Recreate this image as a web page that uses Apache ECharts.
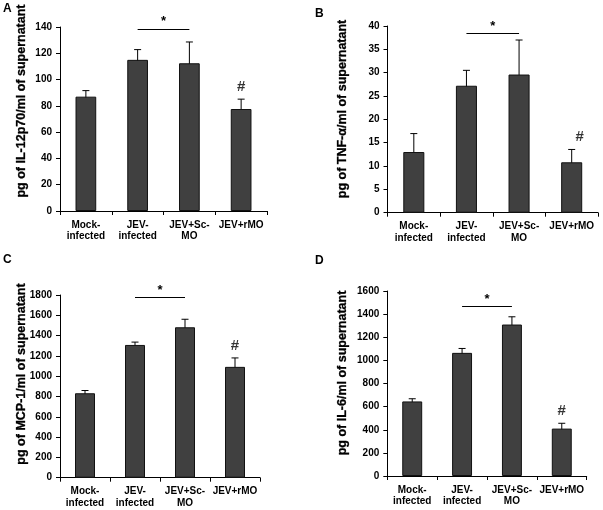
<!DOCTYPE html>
<html><head><meta charset="utf-8">
<script src="https://cdn.jsdelivr.net/npm/echarts@6/dist/echarts.min.js"></script>
<style>html,body{margin:0;padding:0;background:#fff}#c{width:603px;height:510px}</style>
</head><body><div id="c"></div>
<script>
const categories = ['Mock-\ninfected', 'JEV-\ninfected', 'JEV+Sc-\nMO', 'JEV+rMO'];
const il12Mean = [87, 115, 112.4, 77.6];
const il12Err = [4.6, 7.8, 16.2, 7.5];
const tnfMean = [13, 27.2, 29.6, 10.8];
const tnfErr = [3.95, 3.3, 7.4, 2.75];
const mcpMean = [832, 1308, 1482, 1092];
const mcpErr = [27, 28, 79, 88];
const il6Mean = [645, 1065, 1310, 410];
const il6Err = [23, 38, 67, 46];
const yTitles = ['pg of IL-12p70/ml of supernatant', 'pg of TNF-\u03b1/ml of supernatant', 'pg of MCP-1/ml of supernatant', 'pg of IL-6/ml of supernatant'];
const yMax = [140, 40, 1800, 1600];
const yStep = [20, 5, 200, 200];
const sigLevel = [138.5, 38.4, 1773, 1464];
const panelLetters = ['A', 'B', 'C', 'D'];

const FONT = 'Arial, "Liberation Sans", sans-serif';
const means = [il12Mean, tnfMean, mcpMean, il6Mean];
const errs = [il12Err, tnfErr, mcpErr, il6Err];

const grids = [
  {left: 60, right: 336, top: 27, bottom: 299},
  {left: 387.5, right: 5, top: 26, bottom: 297.3},
  {left: 60, right: 343, top: 295, bottom: 32.3},
  {left: 387.3, right: 16.3, top: 291, bottom: 34}
];
const titlePos = [[22, 101], [342.5, 109], [22, 374], [342.5, 373]];
const letterPos = [[3, 3], [315, 8], [3, 254], [315, 255]];
const hashOffset = [0, 8, 0, 0];

const xAxis = [], yAxis = [], series = [], graphic = [];
for (let i = 0; i < 4; i++) {
  xAxis.push({
    type: 'category', gridIndex: i, data: categories,
    axisLine: {lineStyle: {color: '#000', width: 1}},
    axisTick: {show: true, length: 4, lineStyle: {color: '#000'}},
    axisLabel: {color: '#000', fontFamily: FONT, fontWeight: 'bold', fontSize: 10, lineHeight: 11.5, margin: 8, interval: 0}
  });
  yAxis.push({
    type: 'value', gridIndex: i, min: 0, max: yMax[i], interval: yStep[i],
    axisLine: {show: true, lineStyle: {color: '#000', width: 1}},
    axisTick: {show: true, length: 4, lineStyle: {color: '#000'}},
    splitLine: {show: false},
    axisLabel: {color: '#000', fontFamily: FONT, fontWeight: 'bold', fontSize: 10, margin: 8, formatter: v => String(v)}
  });
  series.push({
    type: 'bar', xAxisIndex: i, yAxisIndex: i, data: means[i], barWidth: '40%',
    itemStyle: {color: '#404040', borderColor: '#111', borderWidth: 1},
    silent: true, animation: false,
    markLine: {
      silent: true, symbol: ['none', 'none'], animation: false,
      lineStyle: {color: '#000', width: 1, type: 'solid'},
      label: {show: true, position: 'middle', formatter: '*', color: '#000', fontSize: 13, fontWeight: 'bold', fontFamily: FONT, distance: 1},
      data: [[{coord: [1, sigLevel[i]]}, {coord: [2, sigLevel[i]]}]]
    }
  });
  series.push({
    type: 'custom', xAxisIndex: i, yAxisIndex: i, animation: false, silent: true,
    data: means[i].map((m, k) => [k, m - errs[i][k], m + errs[i][k]]),
    encode: {x: 0, y: [1, 2]},
    renderItem: function (params, api) {
      const x = api.value(0);
      const pLo = api.coord([x, api.value(1)]);
      const pHi = api.coord([x, api.value(2)]);
      const w = 3.5;
      const st = {stroke: '#000', lineWidth: 1};
      return {type: 'group', children: [
        {type: 'line', shape: {x1: pLo[0], y1: pLo[1], x2: pHi[0], y2: pHi[1]}, style: st},
        {type: 'line', shape: {x1: pHi[0] - w, y1: pHi[1], x2: pHi[0] + w, y2: pHi[1]}, style: st},
        {type: 'line', shape: {x1: pLo[0] - w, y1: pLo[1], x2: pLo[0] + w, y2: pLo[1]}, style: st}
      ]};
    }
  });
  series.push({
    type: 'scatter', xAxisIndex: i, yAxisIndex: i, symbolSize: 0, animation: false, silent: true,
    data: [[3, means[i][3] + errs[i][3]]],
    label: {show: true, position: 'top', distance: 5, offset: [hashOffset[i], 0], formatter: '#', color: '#000', fontSize: 15, fontWeight: 'bold', fontFamily: FONT}
  });
  graphic.push({
    type: 'text', x: titlePos[i][0], y: titlePos[i][1], rotation: Math.PI / 2,
    style: {text: yTitles[i], fill: '#000', font: 'bold 12.5px ' + FONT, textAlign: 'center', textVerticalAlign: 'middle', stroke: '#000', lineWidth: 0.3}
  });
  graphic.push({
    type: 'text', x: letterPos[i][0], y: letterPos[i][1],
    style: {text: panelLetters[i], fill: '#000', font: 'bold 12px ' + FONT, textAlign: 'left', textVerticalAlign: 'top'}
  });
}

const chart = echarts.init(document.getElementById('c'), null, {renderer: 'canvas'});
chart.setOption({animation: false, backgroundColor: '#fff', grid: grids, xAxis, yAxis, series, graphic});
</script>
</body></html>
